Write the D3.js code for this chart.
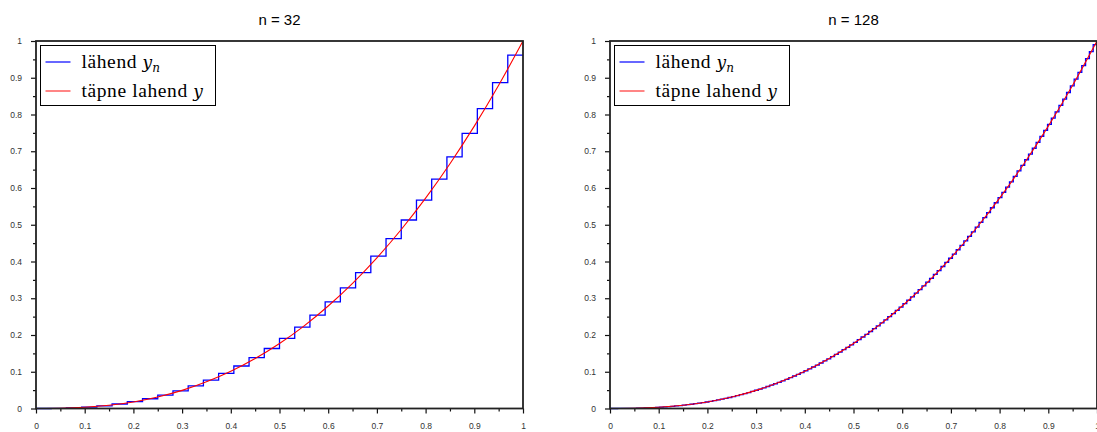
<!DOCTYPE html>
<html>
<head>
<meta charset="utf-8">
<script src="https://cdn.jsdelivr.net/npm/d3@7"></script>
<style>
body { margin: 0; background: #fff; }
</style>
</head>
<body>
<svg id="chart" width="1097" height="432"></svg>
<script>
// tick values and labels
const xTickValues = [0, 0.1, 0.2, 0.3, 0.4, 0.5, 0.6, 0.7, 0.8, 0.9, 1];
const xTickLabels = ["0", "0.1", "0.2", "0.3", "0.4", "0.5", "0.6", "0.7", "0.8", "0.9", "1"];
const yTickValues = [0, 0.1, 0.2, 0.3, 0.4, 0.5, 0.6, 0.7, 0.8, 0.9, 1];
const yTickLabels = ["0", "0.1", "0.2", "0.3", "0.4", "0.5", "0.6", "0.7", "0.8", "0.9", "1"];
const minorTicks = [0.05, 0.15, 0.25, 0.35, 0.45, 0.55, 0.65, 0.75, 0.85, 0.95];

// exact solution
const exactX = [0, 0.05, 0.1, 0.15, 0.2, 0.25, 0.3, 0.35, 0.4, 0.45, 0.5,
                0.55, 0.6, 0.65, 0.7, 0.75, 0.8, 0.85, 0.9, 0.95, 1];
const exactY = [0, 0.0006, 0.0032, 0.0087, 0.0179, 0.0313, 0.0493, 0.0725, 0.1012, 0.1358, 0.1768,
                0.2243, 0.2789, 0.3406, 0.4100, 0.4871, 0.5724, 0.6661, 0.7684, 0.8796, 1];

// approximate solution, n = 32 (one value per step)
const approx32 = [0.0000, 0.0005, 0.0017, 0.0040, 0.0074, 0.0122, 0.0186, 0.0266,
                  0.0364, 0.0480, 0.0617, 0.0774, 0.0954, 0.1156, 0.1382, 0.1633,
                  0.1909, 0.2212, 0.2541, 0.2899, 0.3285, 0.3700, 0.4146, 0.4622,
                  0.5129, 0.5669, 0.6241, 0.6846, 0.7486, 0.8160, 0.8869, 0.9614];

// approximate solution, n = 128
const approx128 = [
  0.0000, 0.0000, 0.0001, 0.0001, 0.0002, 0.0004, 0.0006, 0.0008,
  0.0011, 0.0015, 0.0019, 0.0024, 0.0030, 0.0036, 0.0043, 0.0051,
  0.0060, 0.0069, 0.0079, 0.0091, 0.0103, 0.0116, 0.0130, 0.0144,
  0.0160, 0.0177, 0.0195, 0.0214, 0.0234, 0.0255, 0.0277, 0.0300,
  0.0325, 0.0350, 0.0377, 0.0405, 0.0434, 0.0465, 0.0496, 0.0529,
  0.0563, 0.0599, 0.0635, 0.0673, 0.0713, 0.0753, 0.0795, 0.0839,
  0.0884, 0.0930, 0.0978, 0.1027, 0.1077, 0.1129, 0.1183, 0.1238,
  0.1294, 0.1353, 0.1412, 0.1473, 0.1536, 0.1600, 0.1666, 0.1733,
  0.1802, 0.1873, 0.1946, 0.2019, 0.2095, 0.2172, 0.2251, 0.2332,
  0.2414, 0.2499, 0.2584, 0.2672, 0.2761, 0.2853, 0.2945, 0.3040,
  0.3137, 0.3235, 0.3335, 0.3437, 0.3541, 0.3647, 0.3754, 0.3864,
  0.3975, 0.4088, 0.4203, 0.4320, 0.4439, 0.4560, 0.4683, 0.4808,
  0.4935, 0.5064, 0.5195, 0.5328, 0.5462, 0.5599, 0.5738, 0.5879,
  0.6022, 0.6167, 0.6315, 0.6464, 0.6615, 0.6769, 0.6924, 0.7082,
  0.7242, 0.7404, 0.7568, 0.7734, 0.7903, 0.8074, 0.8246, 0.8421,
  0.8599, 0.8778, 0.8960, 0.9144, 0.9330, 0.9519, 0.9710, 0.9903
];

const panels = [
  { title: "n = 32", values: approx32, left: 36 },
  { title: "n = 128", values: approx128, left: 610 }
];

const svg = d3.select("#chart");
const plotTop = 41, plotW = 487, plotH = 367.5;

panels.forEach(p => {
  const x = d3.scaleLinear().domain([0, 1]).range([p.left, p.left + plotW]);
  const y = d3.scaleLinear().domain([0, 1]).range([plotTop + plotH, plotTop]);
  const g = svg.append("g");

  // title
  g.append("text")
    .attr("x", p.left + plotW / 2)
    .attr("y", 24.5)
    .attr("text-anchor", "middle")
    .style("font-family", "'Liberation Sans', Arial, sans-serif")
    .style("font-size", "15px")
    .style("fill", "#000")
    .text(p.title);

  // step approximation
  const n = p.values.length;
  const stepPts = p.values.map((v, i) => [i / n, v]);
  stepPts.push([1, p.values[n - 1]]);
  g.append("path")
    .datum(stepPts)
    .attr("fill", "none")
    .attr("stroke", "#0000ff")
    .attr("stroke-width", 1.3)
    .attr("d", d3.line().x(d => x(d[0])).y(d => y(d[1])).curve(d3.curveStepAfter));

  // exact solution
  g.append("path")
    .datum(exactX.map((v, i) => [v, exactY[i]]))
    .attr("fill", "none")
    .attr("stroke", "#ff0000")
    .attr("stroke-width", 1.1)
    .attr("d", d3.line().x(d => x(d[0])).y(d => y(d[1])).curve(d3.curveMonotoneX));

  // axes
  g.append("g")
    .attr("transform", `translate(0,${plotTop + plotH})`)
    .call(d3.axisBottom(x).tickValues(xTickValues)
      .tickFormat((d, i) => xTickLabels[i]).tickSize(5).tickSizeOuter(0).tickPadding(9));
  g.append("g")
    .attr("transform", `translate(0,${plotTop + plotH})`)
    .call(d3.axisBottom(x).tickValues(minorTicks).tickFormat("").tickSize(3).tickSizeOuter(0));

  g.append("g")
    .attr("transform", `translate(${p.left},0)`)
    .call(d3.axisLeft(y).tickValues(yTickValues)
      .tickFormat((d, i) => yTickLabels[i]).tickSize(5).tickSizeOuter(0).tickPadding(9));
  g.append("g")
    .attr("transform", `translate(${p.left},0)`)
    .call(d3.axisLeft(y).tickValues(minorTicks).tickFormat("").tickSize(3).tickSizeOuter(0));

  g.selectAll(".domain").remove();
  g.selectAll(".tick line").attr("stroke", "#111").attr("stroke-width", 1.2);
  g.selectAll(".tick text")
    .style("font-family", "'Liberation Sans', Arial, sans-serif")
    .style("font-size", "8.5px")
    .style("fill", "#333");

  // frame
  g.append("rect")
    .attr("x", p.left)
    .attr("y", plotTop)
    .attr("width", plotW)
    .attr("height", plotH)
    .attr("fill", "none")
    .attr("stroke", "#222")
    .attr("stroke-width", 1.8);

  // legend
  const lg = g.append("g").attr("transform", `translate(${p.left + 4.5},45.5)`);
  lg.append("rect")
    .attr("width", 175).attr("height", 60)
    .attr("fill", "#fff").attr("stroke", "#000").attr("stroke-width", 1);
  const items = [
    { color: "#0000ff", text: "lähend ", v: "y", sub: "n", cy: 16.5 },
    { color: "#ff3333", text: "täpne lahend ", v: "y", sub: null, cy: 45.5 }
  ];
  items.forEach(it => {
    lg.append("line")
      .attr("x1", 5).attr("x2", 30).attr("y1", it.cy).attr("y2", it.cy)
      .attr("stroke", it.color).attr("stroke-width", 1.2);
    const t = lg.append("text")
      .attr("x", 41).attr("y", it.cy + 5.5)
      .style("font-family", "'Liberation Serif', 'Times New Roman', serif")
      .style("font-size", "19.5px")
      .style("letter-spacing", "0.6px")
      .style("fill", "#000");
    t.append("tspan").text(it.text);
    t.append("tspan")
      .style("font-family", "'DejaVu Serif', serif")
      .style("font-style", "italic")
      .style("font-size", "17px")
      .style("letter-spacing", "0px")
      .text(it.v);
    if (it.sub) {
      t.append("tspan").attr("dy", 4)
        .style("font-family", "'DejaVu Serif', serif")
        .style("font-style", "italic")
        .style("font-size", "12px")
        .style("letter-spacing", "0px")
        .text(it.sub);
    }
  });
});
</script>
</body>
</html>
